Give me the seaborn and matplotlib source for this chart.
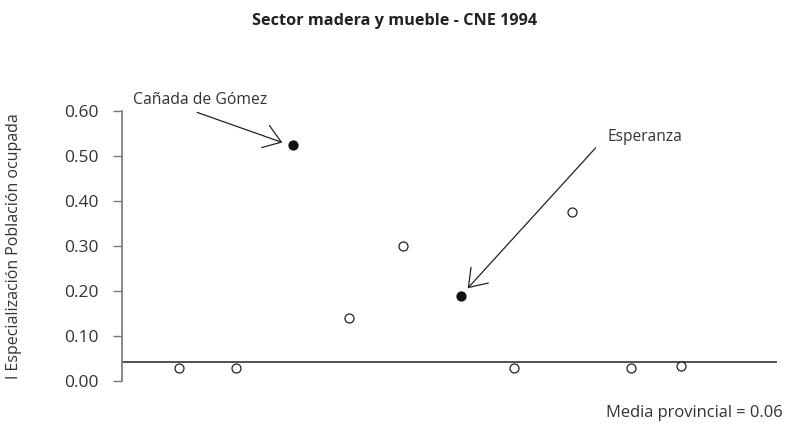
import numpy as np
import pandas as pd
import matplotlib
matplotlib.use("Agg")
import matplotlib.pyplot as plt
import seaborn as sns

# data
pos = [1.0, 2.0, 3.0, 3.99, 4.94, 5.97, 6.89, 7.91, 8.95, 9.83]
indice = [0.03, 0.03, 0.525, 0.14, 0.30, 0.19, 0.03, 0.375, 0.03, 0.033]
destacado = [False, False, True, False, False, True, False, False, False, False]
media_linea = 0.042
media_texto = "Media provincial = 0.06"
yticks = [0.0, 0.1, 0.2, 0.3, 0.4, 0.5, 0.6]

df = pd.DataFrame({"pos": pos, "indice": indice, "destacado": destacado})

sns.set_style("ticks")
plt.rcParams["font.family"] = ["Open Sans", "DejaVu Sans"]
txt = "#333333"

fig = plt.figure(figsize=(7.89, 4.36), dpi=100)
ax = fig.add_axes([122 / 789, 1 - 381 / 436, (777 - 122) / 789, (381 - 111) / 436])

abiertos = df[~df.destacado]
llenos = df[df.destacado]
sns.scatterplot(data=abiertos, x="pos", y="indice", ax=ax, s=42,
                facecolor="white", edgecolor="#222222", linewidth=0.9, zorder=3)
sns.scatterplot(data=llenos, x="pos", y="indice", ax=ax, s=42,
                color="#111111", edgecolor="#111111", linewidth=0.9, zorder=3)

ax.axhline(media_linea, color="#333333", lw=1.2, zorder=2)

ax.set_xlim(0, 11.52)
ax.set_ylim(0, 0.6)
ax.set_yticks(yticks)
ax.set_yticklabels([f"{v:.2f}" for v in yticks], fontsize=12.5, color=txt)
ax.tick_params(axis="y", length=6.5, width=1, color="#777777", pad=10)
ax.set_xticks([])
ax.set_xlabel("")
ax.set_ylabel("I Especialización Población ocupada", fontsize=11.5, color=txt)
ax.yaxis.set_label_coords(-0.152, 0.5)
for side in ["top", "right", "bottom"]:
    ax.spines[side].set_visible(False)
ax.spines["left"].set_color("#777777")
ax.spines["left"].set_linewidth(1.2)

fig.suptitle("Sector madera y mueble - CNE 1994", fontsize=11.7, fontweight="bold",
             color="#222222", x=0.5, y=1 - 21 / 436, va="center")

flecha = dict(arrowstyle="->,head_width=0.35,head_length=0.5", color="#222222", lw=0.9,
              shrinkA=0, shrinkB=0, mutation_scale=24)
ax.annotate("Cañada de Gómez", xy=(2.82, 0.53), xytext=(0.2, 0.625),
            fontsize=11.3, color=txt, ha="left", va="center",
            annotation_clip=False)
ax.annotate("", xy=(2.82, 0.53), xytext=(1.32, 0.597),
            arrowprops=flecha, annotation_clip=False)
ax.annotate("Esperanza", xy=(6.08, 0.206), xytext=(8.54, 0.542),
            fontsize=11.2, color=txt, ha="left", va="center",
            annotation_clip=False)
ax.annotate("", xy=(6.08, 0.206), xytext=(8.33, 0.518),
            arrowprops=flecha, annotation_clip=False)

fig.text(783 / 789, 1 - 413 / 436, media_texto, fontsize=11.9, color=txt,
         ha="right", va="center")

fig.savefig("out.png", dpi=100)
